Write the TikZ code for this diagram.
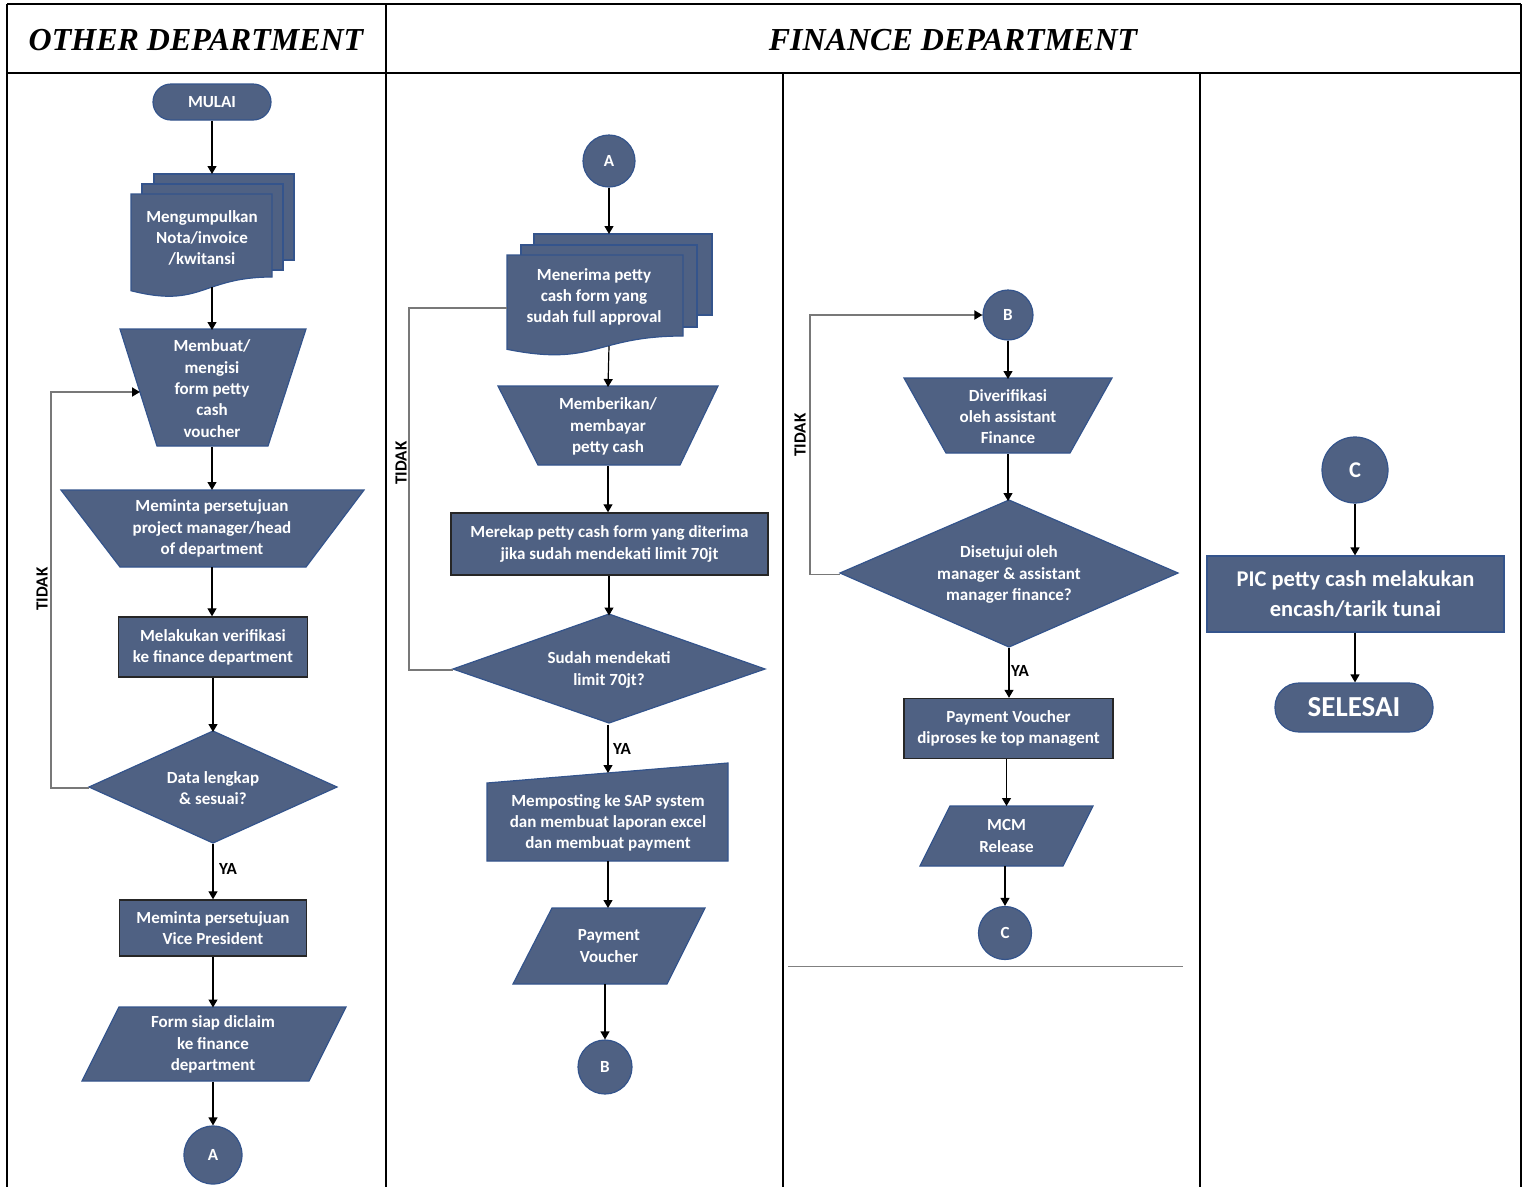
\documentclass[tikz,border=0pt]{standalone}
\usepackage{fontspec}
\setmainfont{Carlito}
\newfontfamily\hdrfont{Liberation Serif}
\usetikzlibrary{arrows.meta,calc}
\definecolor{boxfill}{RGB}{79,97,131}
\definecolor{boxline}{RGB}{52,84,140}
\definecolor{loopgray}{RGB}{120,120,120}
\begin{document}
\begin{tikzpicture}[x=1pt,y=-1pt,
  fillshape/.style={fill=boxfill,draw=boxline,line width=1.2pt},
  procshape/.style={fill=boxfill,draw=black!85,line width=1.4pt},
  txt/.style={text=white,font=\bfseries\fontsize{17}{21.3}\selectfont,align=center,inner sep=0pt},
  bigtxt/.style={text=white,font=\bfseries\fontsize{22.5}{30}\selectfont,align=center,inner sep=0pt},
  area/.style 2 args={minimum width=#1,minimum height=#2,inner sep=0pt,outer sep=0pt,draw=none},
  frame/.style={draw=black,line width=2pt},
  conn/.style={draw=black,line width=1.2pt,-{Triangle[width=9pt,length=8pt]}},
  loopline/.style={draw=loopgray,line width=1.8pt},
  looparrow/.style={draw=loopgray,line width=1.8pt,-{Triangle[width=9pt,length=8pt,color=black]}},
  lbl/.style={font=\bfseries\fontsize{17}{20}\selectfont,text=black,inner sep=0pt},
  hdr/.style={font=\hdrfont\bfseries\itshape\fontsize{32}{36}\selectfont,inner sep=0pt}
]
\useasboundingbox (0,0) rectangle (1523,1187);

% ---------- frame ----------
\draw[frame] (7,4) -- (1521,4);
\draw[frame] (7,4) -- (7,1187);
\draw[frame] (1521,4) -- (1521,1187);
\draw[frame] (7,73) -- (1521,73);
\draw[frame] (386,4) -- (386,1187);
\draw[frame] (783,73) -- (783,1187);
\draw[frame] (1200,73) -- (1200,1187);
\draw[draw=gray,line width=1pt] (788,966) -- (1183,966);
\node[hdr] (h1) at (196,40) {OTHER DEPARTMENT};
\node[hdr] (h2) at (953,40) {FINANCE DEPARTMENT};

% ---------- column 1 ----------
\node[fillshape,txt,rounded corners=18pt,minimum width=118,minimum height=36] (mulai) at (212,102) {MULAI};

\filldraw[fillshape] (154,174) rectangle (294,260);
\filldraw[fillshape] (142,184) rectangle (283,270);
\filldraw[fillshape] (131,194) -- (272,194) -- (272,277) .. controls (201.5,277) and (201.5,308.7) .. (131,290.7) -- cycle;
\node[area={163}{113}] (doc1) at (212,230.5) {};
\node[txt] (doc1t) at (202,238) {Mengumpulkan\\Nota/invoice\\/kwitansi};

\filldraw[fillshape] (120,329) -- (306,329) -- (268,446) -- (157,446) -- cycle;
\node[area={186}{117},txt] (t1) at (212,388.5) {Membuat/\\mengisi\\form petty\\cash\\voucher};

\filldraw[fillshape] (61,490) -- (364,490) -- (306,567) -- (120,567) -- cycle;
\node[area={303}{77},txt] (t2) at (212,528.5) {Meminta persetujuan\\project manager/head\\of department};

\node[procshape,txt,minimum width=189,minimum height=60] (r1) at (213,647) {Melakukan verifikasi\\ke finance department};

\filldraw[fillshape] (89,787) -- (213,731) -- (337,787) -- (213,843) -- cycle;
\node[area={248}{112},txt] (d1) at (213,788) {Data lengkap\\\& sesuai?};

\node[procshape,txt,minimum width=187,minimum height=56] (r2) at (213,928) {Meminta persetujuan\\Vice President};

\filldraw[fillshape] (119,1007) -- (346,1007) -- (309,1081) -- (82,1081) -- cycle;
\node[area={227}{74},txt] (p1) at (213,1044.5) {Form siap diclaim\\ke finance\\department};

\node[fillshape,circle,txt,minimum size=58] (cA1) at (213,1155) {A};

\coordinate (k1) at (51,392);
\coordinate (t1in) at (140,392);
\draw[conn] (mulai.south) -- (doc1.north);
\draw[conn] (doc1.south) -- (t1.north);
\draw[conn] (t1.south) -- (t2.north);
\draw[conn] (t2.south) -- (r1.north -| t2.south);
\draw[conn] (r1.south) -- (d1.north);
\draw[conn] (d1.south) -- (r2.north);
\draw[conn] (r2.south) -- (p1.north);
\draw[conn] (p1.south) -- (cA1.north);
\draw[looparrow] (d1.west) -| (k1) -- (t1in);
\node[lbl,rotate=90] (tidak1) at (42,589) {TIDAK};
\node[lbl] (ya1) at (228,869) {YA};

% ---------- column 2 ----------
\node[fillshape,circle,txt,minimum size=52] (cA2) at (609,161) {A};

\filldraw[fillshape] (534,234) rectangle (712,315);
\filldraw[fillshape] (521,245) rectangle (697,327);
\filldraw[fillshape] (507,255) -- (683,255) -- (683,336) .. controls (595,336) and (595,367) .. (507,349.3) -- cycle;
\node[area={205}{112}] (doc2) at (609,290) {};
\node[txt] (doc2t) at (594,297) {Menerima petty\\cash form yang\\sudah full approval};

\filldraw[fillshape] (498,386) -- (718,386) -- (680,465) -- (538,465) -- cycle;
\node[area={220}{79},txt] (t3) at (608,426.5) {Memberikan/\\membayar\\petty cash};

\node[procshape,txt,minimum width=317,minimum height=62] (r3) at (609.5,544) {Merekap petty cash form yang diterima\\jika sudah mendekati limit 70jt};

\filldraw[fillshape] (453,669) -- (609,614) -- (765,669) -- (609,723) -- cycle;
\node[area={312}{109},txt] (d2) at (609,670) {Sudah mendekati\\limit 70jt?};

\filldraw[fillshape] (487,783) -- (728,763) -- (728,861) -- (487,861) -- cycle;
\node[area={241}{88}] (m1) at (608,817) {};
\node[txt] (m1t) at (608,823) {Memposting ke SAP system\\dan membuat laporan excel\\dan membuat payment};

\filldraw[fillshape] (552,908) -- (705,908) -- (667,984) -- (513,984) -- cycle;
\node[area={192}{76},txt] (p2) at (609,946) {Payment\\Voucher};

\node[fillshape,circle,txt,minimum size=54] (cB1) at (605,1067) {B};

\coordinate (k2) at (409,308);
\coordinate (doc2in) at (507,308);
\draw[conn] (cA2.south) -- (doc2.north);
\draw[conn] (doc2.south) -- (t3.north);
\draw[conn] (t3.south) -- (r3.north -| t3.south);
\draw[conn] (r3.south -| d2.north) -- (d2.north);
\draw[conn] (d2.south -| m1.north) -- (m1.north);
\draw[conn] (m1.south) -- (p2.north -| m1.south);
\draw[conn] (p2.south -| cB1.north) -- (cB1.north);
\draw[loopline] (d2.west) -| (k2) -- (doc2in);
\node[lbl,rotate=90] (tidak2) at (401,463) {TIDAK};
\node[lbl] (ya2) at (622,749) {YA};

% ---------- column 3 ----------
\node[fillshape,circle,txt,minimum size=50] (cB2) at (1008,315) {B};

\filldraw[fillshape] (904,378) -- (1112,378) -- (1070,453) -- (946,453) -- cycle;
\node[area={208}{75},txt] (t4) at (1008,416.5) {Diverifikasi\\oleh assistant\\Finance};

\filldraw[fillshape] (840,573) -- (1009,500) -- (1178,573) -- (1009,647) -- cycle;
\node[area={338}{147},txt] (d3) at (1009,574.5) {Disetujui oleh\\manager \& assistant\\manager finance?};

\node[procshape,txt,minimum width=209,minimum height=60] (r4) at (1008.5,728.5) {Payment Voucher\\diproses ke top managent};

\filldraw[fillshape] (950,806) -- (1093,806) -- (1063,866) -- (920,866) -- cycle;
\node[area={173}{60},txt] (p3) at (1006.5,836) {MCM\\Release};

\node[fillshape,circle,txt,minimum size=53] (cC1) at (1005,933) {C};

\coordinate (k3) at (810,315);
\draw[conn] (cB2.south) -- (t4.north);
\draw[conn] (t4.south) -- (d3.north -| t4.south);
\draw[conn] (d3.south) -- (r4.north -| d3.south);
\draw[conn] (r4.south -| p3.north) -- (p3.north);
\draw[conn] (p3.south -| cC1.north) -- (cC1.north);
\draw[looparrow] (d3.west) -| (k3) -- (cB2.west);
\node[lbl,rotate=90] (tidak3) at (800,435) {TIDAK};
\node[lbl] (ya3) at (1020,671) {YA};

% ---------- column 4 ----------
\node[fillshape,circle,bigtxt,minimum size=66] (cC2) at (1355,470) {C};
\node[fillshape,bigtxt,minimum width=297,minimum height=76] (r5) at (1355.5,594) {PIC petty cash melakukan\\encash/tarik tunai};
\node[fillshape,text=white,font=\bfseries\fontsize{29}{32}\selectfont,inner sep=0pt,rounded corners=24pt,minimum width=158,minimum height=49] (selesai) at (1354,707.5) {SELESAI};
\draw[conn] (cC2.south) -- (r5.north -| cC2.south);
\draw[conn] (r5.south -| cC2.south) -- (selesai.north -| cC2.south);
\end{tikzpicture}
\end{document}
